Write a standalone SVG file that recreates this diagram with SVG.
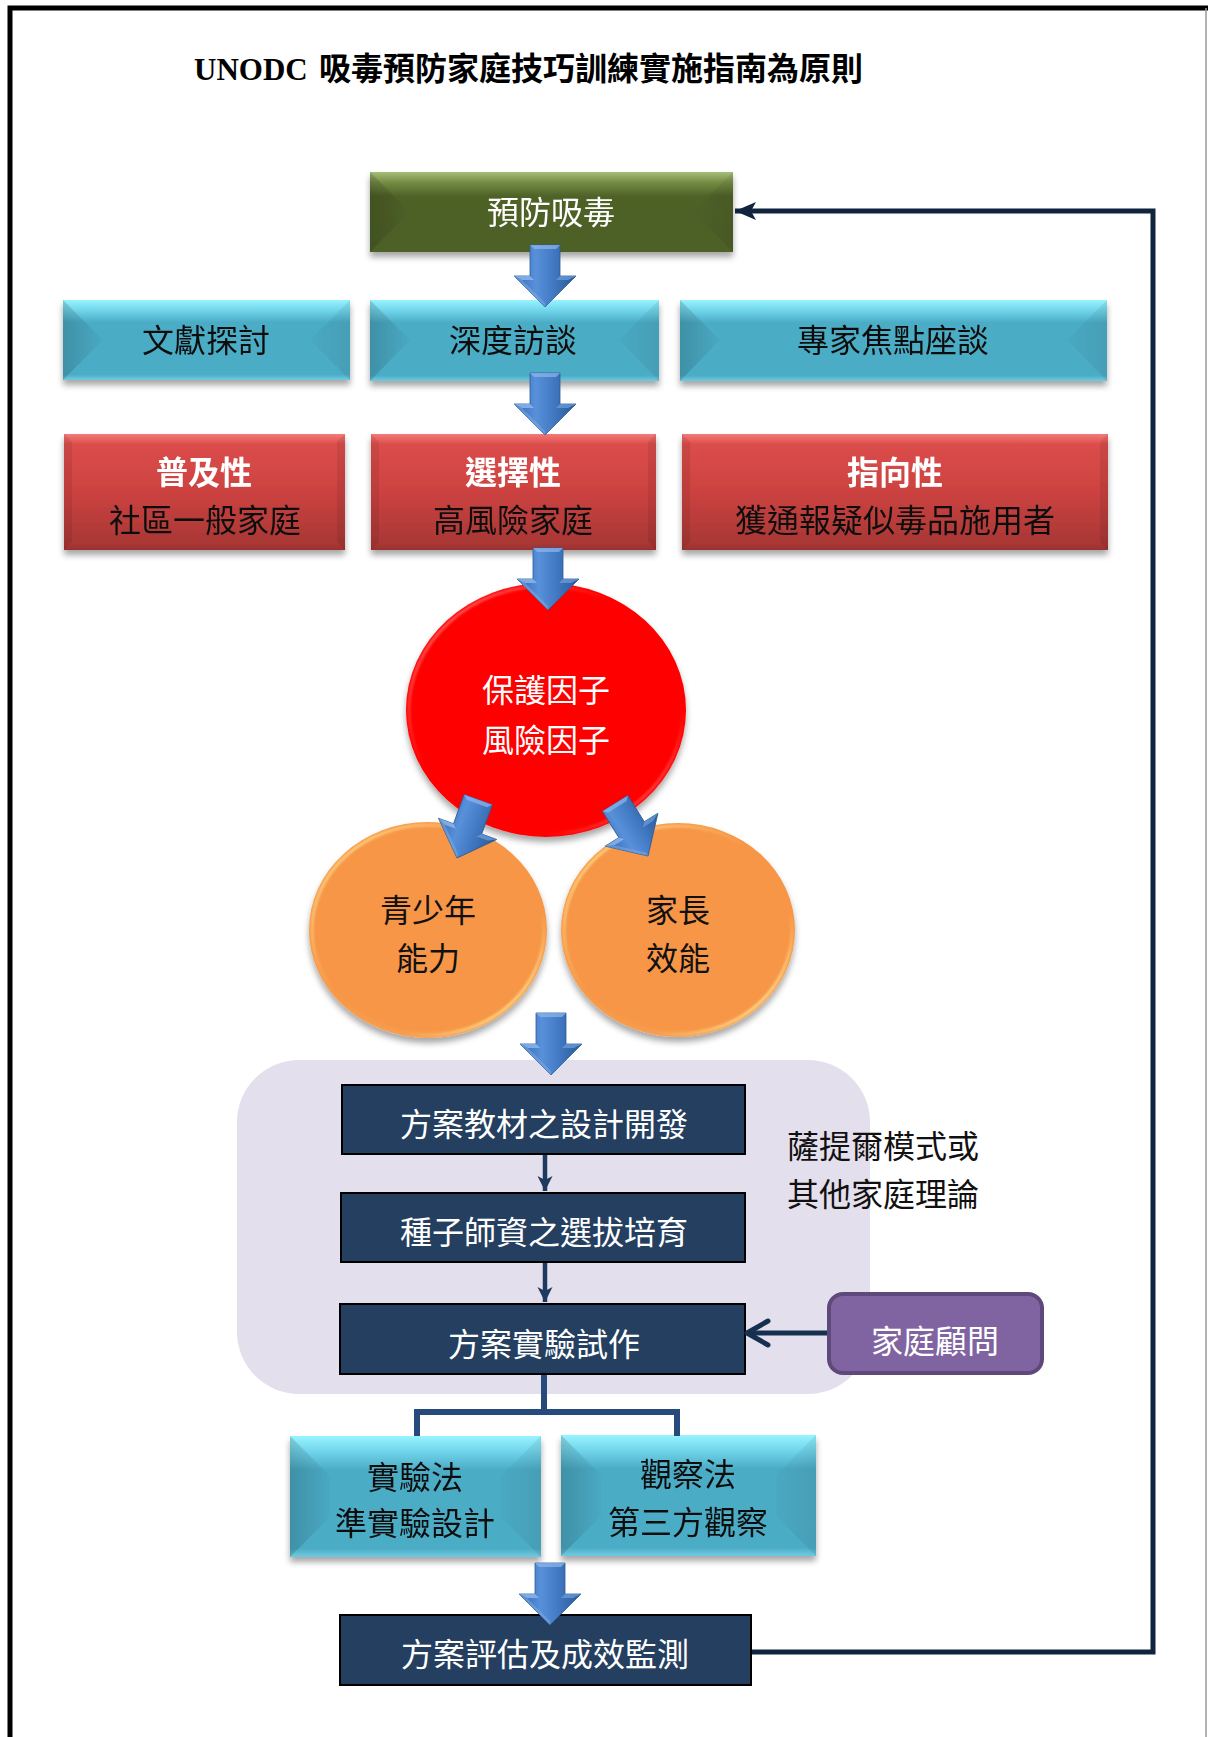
<svg xmlns="http://www.w3.org/2000/svg" width="1208" height="1737" viewBox="0 0 1208 1737">
<style>
.t{font-family:"Noto Sans CJK TC","Noto Sans CJK SC",sans-serif;font-size:32px;text-anchor:middle}
.w{fill:#ffffff}
.k{fill:#111111}
.b{font-weight:bold;font-size:32px}
</style>
<defs>
<filter id="sh" x="-10%" y="-10%" width="120%" height="135%"><feDropShadow dx="0" dy="5" stdDeviation="3" flood-color="#000" flood-opacity="0.35"/></filter>
<filter id="blur1"><feGaussianBlur stdDeviation="1.2"/></filter>
<linearGradient id="cyanG" x1="0" y1="0" x2="0" y2="1">
<stop offset="0" stop-color="#98F4FF"/><stop offset="0.13" stop-color="#70D4EA"/><stop offset="0.28" stop-color="#4BACC6"/><stop offset="0.93" stop-color="#4BACC6"/><stop offset="1" stop-color="#70CBE0"/>
</linearGradient>
<linearGradient id="greenG" x1="0" y1="0" x2="0" y2="1">
<stop offset="0" stop-color="#A6BF78"/><stop offset="0.13" stop-color="#748C44"/><stop offset="0.3" stop-color="#4F6228"/><stop offset="1" stop-color="#4D6027"/>
</linearGradient>
<linearGradient id="redG" x1="0" y1="0" x2="0" y2="1">
<stop offset="0" stop-color="#F47A78"/><stop offset="0.09" stop-color="#DB4D4B"/><stop offset="0.5" stop-color="#CC4240"/><stop offset="0.95" stop-color="#A83735"/><stop offset="1" stop-color="#9A302E"/>
</linearGradient>
<linearGradient id="fL" x1="0" y1="0" x2="1" y2="0">
<stop offset="0" stop-color="#000" stop-opacity="0.16"/><stop offset="1" stop-color="#000" stop-opacity="0.02"/>
</linearGradient>
<linearGradient id="fR" x1="0" y1="0" x2="1" y2="0">
<stop offset="0" stop-color="#000" stop-opacity="0.02"/><stop offset="1" stop-color="#000" stop-opacity="0.08"/>
</linearGradient>
<linearGradient id="arrG" x1="0" y1="0" x2="1" y2="0">
<stop offset="0" stop-color="#3568B0"/><stop offset="0.35" stop-color="#5890DA"/><stop offset="0.6" stop-color="#447CC6"/><stop offset="1" stop-color="#2A5896"/>
</linearGradient>
<radialGradient id="orgG" cx="0.5" cy="0.45" r="0.55">
<stop offset="0" stop-color="#F79646"/><stop offset="0.93" stop-color="#F79646"/><stop offset="1" stop-color="#F6A055"/>
</radialGradient>
<linearGradient id="rimO" x1="0" y1="0" x2="1" y2="1">
<stop offset="0" stop-color="#FFF0A0" stop-opacity="0.95"/><stop offset="0.45" stop-color="#FFE090" stop-opacity="0"/><stop offset="0.7" stop-color="#FFE090" stop-opacity="0"/><stop offset="0.9" stop-color="#FFF0A0" stop-opacity="0.9"/><stop offset="1" stop-color="#FFF0A0" stop-opacity="0.3"/>
</linearGradient>
<linearGradient id="rimR" x1="0" y1="0" x2="1" y2="1">
<stop offset="0" stop-color="#FF9A9A" stop-opacity="0.9"/><stop offset="0.4" stop-color="#FF8080" stop-opacity="0"/><stop offset="0.75" stop-color="#FF8080" stop-opacity="0"/><stop offset="0.95" stop-color="#FF9A9A" stop-opacity="0.8"/>
</linearGradient>
<path id="barr" d="M-15,-62 L15,-62 L15,-31 L31,-31 L0,0 L-31,-31 L-15,-31 Z" fill="url(#arrG)" stroke="#2D5A96" stroke-width="0.8"/>
<g id="arr">
<use href="#barr"/>
<path d="M-31,-31 L-15,-31 L-11,-27 L-23,-27 Z" fill="#8DB8EE" opacity="0.8"/>
<path d="M31,-31 L15,-31 L11,-27 L23,-27 Z" fill="#6E9FDD" opacity="0.7"/>
<path d="M-23,-27 L0,-4 L0,0 L-31,-31 Z" fill="#7FAEE8" opacity="0.5"/>
<path d="M-15,-62 L15,-62 L11,-58 L-11,-58 Z" fill="#8DB8EE" opacity="0.7"/>
</g>
<marker id="mFb" markerUnits="userSpaceOnUse" markerWidth="22" markerHeight="20" viewBox="0 0 22 20" refX="21" refY="10" orient="auto">
<path d="M21,10 L0,1 L5,10 L0,19 Z" fill="#10243E"/>
</marker>
<marker id="mSm" markerUnits="userSpaceOnUse" markerWidth="16" markerHeight="16" viewBox="0 0 16 16" refX="15" refY="8" orient="auto">
<path d="M15,8 L0,0.5 L4,8 L0,15.5 Z" fill="#1F3A5F"/>
</marker>
</defs>

<rect x="0" y="0" width="1208" height="1737" fill="#ffffff"/>
<path d="M10,1737 L10,8 L1208,8" fill="none" stroke="#000" stroke-width="5"/>
<line x1="1206" y1="8" x2="1206" y2="1737" stroke="#9a9a9a" stroke-width="1.5"/>

<g id="title">
<text y="80" font-weight="bold"><tspan x="194" font-family="Liberation Serif, serif" font-size="31">UNODC</tspan><tspan x="319" font-family="Noto Sans CJK TC, Noto Sans CJK SC, sans-serif" font-size="32">吸毒預防家庭技巧訓練實施指南為原則</tspan></text>
</g>

<g id="container">
<rect x="237" y="1060" width="633" height="334" rx="62" fill="#E4DFEC"/>
</g>

<g id="n-prevent" filter="url(#sh)">
<rect x="370" y="172" width="363" height="80" fill="url(#greenG)"/>
<polygon points="370,172 410,212 370,252" fill="url(#fL)"/>
<polygon points="733,172 693,212 733,252" fill="url(#fR)"/>
<text class="t w" x="551" y="224">預防吸毒</text>
</g>

<g id="n-lit" filter="url(#sh)">
<rect x="63" y="300" width="287" height="80" fill="url(#cyanG)"/>
<polygon points="63,300 103,340 63,380" fill="url(#fL)"/>
<polygon points="350,300 310,340 350,380" fill="url(#fR)"/>
<text class="t k" x="206" y="352">文獻探討</text>
</g>
<g id="n-interview" filter="url(#sh)">
<rect x="370" y="300" width="289" height="81" fill="url(#cyanG)"/>
<polygon points="370,300 410,340 370,381" fill="url(#fL)"/>
<polygon points="659,300 619,340 659,381" fill="url(#fR)"/>
<text class="t k" x="513" y="352">深度訪談</text>
</g>
<g id="n-focus" filter="url(#sh)">
<rect x="680" y="300" width="427" height="81" fill="url(#cyanG)"/>
<polygon points="680,300 720,340 680,381" fill="url(#fL)"/>
<polygon points="1107,300 1067,340 1107,381" fill="url(#fR)"/>
<text class="t k" x="893" y="352">專家焦點座談</text>
</g>

<g id="n-universal" filter="url(#sh)">
<rect x="64" y="434" width="281" height="116" fill="url(#redG)"/>
<polygon points="64,434 72,442 72,542 64,550" fill="#000" opacity="0.08"/>
<polygon points="345,434 337,442 337,542 345,550" fill="#000" opacity="0.08"/>
<text class="t w b" x="204" y="484">普及性</text>
<text class="t k" x="205" y="532">社區一般家庭</text>
</g>
<g id="n-selective" filter="url(#sh)">
<rect x="371" y="434" width="285" height="116" fill="url(#redG)"/>
<polygon points="371,434 379,442 379,542 371,550" fill="#000" opacity="0.08"/>
<polygon points="656,434 648,442 648,542 656,550" fill="#000" opacity="0.08"/>
<text class="t w b" x="513" y="484">選擇性</text>
<text class="t k" x="513" y="532">高風險家庭</text>
</g>
<g id="n-indicated" filter="url(#sh)">
<rect x="682" y="434" width="426" height="116" fill="url(#redG)"/>
<polygon points="682,434 690,442 690,542 682,550" fill="#000" opacity="0.08"/>
<polygon points="1108,434 1100,442 1100,542 1108,550" fill="#000" opacity="0.08"/>
<text class="t w b" x="895" y="484">指向性</text>
<text class="t k" x="895" y="532">獲通報疑似毒品施用者</text>
</g>

<g id="n-factors">
<ellipse cx="546" cy="710" rx="140" ry="127" fill="#FF0000" filter="url(#sh)"/>
<ellipse cx="546" cy="710" rx="137" ry="124" fill="none" stroke="url(#rimR)" stroke-width="3" filter="url(#blur1)"/>
<text class="t w" x="546" y="702">保護因子</text>
<text class="t w" x="546" y="752">風險因子</text>
</g>

<g id="n-youth">
<ellipse cx="428" cy="930" rx="119" ry="108" fill="url(#orgG)" filter="url(#sh)"/>
<ellipse cx="428" cy="930" rx="116" ry="105" fill="none" stroke="url(#rimO)" stroke-width="3" filter="url(#blur1)"/>
<text class="t k" x="428" y="922">青少年</text>
<text class="t k" x="428" y="970">能力</text>
</g>
<g id="n-parent">
<ellipse cx="678" cy="930" rx="117" ry="107" fill="url(#orgG)" filter="url(#sh)"/>
<ellipse cx="678" cy="930" rx="114" ry="104" fill="none" stroke="url(#rimO)" stroke-width="3" filter="url(#blur1)"/>
<text class="t k" x="678" y="922">家長</text>
<text class="t k" x="678" y="970">效能</text>
</g>

<g id="n-design">
<rect x="342" y="1085" width="403" height="69" fill="#243F60" stroke="#000" stroke-width="2"/>
<text class="t w" x="544" y="1136">方案教材之設計開發</text>
</g>
<g id="n-seed">
<rect x="341" y="1193" width="404" height="69" fill="#243F60" stroke="#000" stroke-width="2"/>
<text class="t w" x="544" y="1244">種子師資之選拔培育</text>
</g>
<g id="n-pilot">
<rect x="340" y="1304" width="405" height="70" fill="#243F60" stroke="#000" stroke-width="2"/>
<text class="t w" x="544" y="1356">方案實驗試作</text>
</g>

<g id="n-theory">
<text class="t k" x="787" y="1158" style="text-anchor:start">薩提爾模式或</text>
<text class="t k" x="787" y="1206" style="text-anchor:start">其他家庭理論</text>
</g>

<g id="n-consultant">
<rect x="829" y="1294" width="213" height="79" rx="14" fill="#8064A2" stroke="#5F497A" stroke-width="4"/>
<text class="t w" x="935" y="1353">家庭顧問</text>
</g>

<g id="n-experiment" filter="url(#sh)">
<rect x="290" y="1436" width="251" height="121" fill="url(#cyanG)"/>
<polygon points="290,1436 330,1476 330,1517 290,1557" fill="url(#fL)"/>
<polygon points="541,1436 501,1476 501,1517 541,1557" fill="url(#fR)"/>
<text class="t k" x="415" y="1489">實驗法</text>
<text class="t k" x="415" y="1535">準實驗設計</text>
</g>
<g id="n-observe" filter="url(#sh)">
<rect x="561" y="1435" width="255" height="121" fill="url(#cyanG)"/>
<polygon points="561,1435 601,1475 601,1516 561,1556" fill="url(#fL)"/>
<polygon points="816,1435 776,1475 776,1516 816,1556" fill="url(#fR)"/>
<text class="t k" x="688" y="1486">觀察法</text>
<text class="t k" x="688" y="1534">第三方觀察</text>
</g>

<g id="n-evaluate">
<rect x="340" y="1615" width="411" height="70" fill="#243F60" stroke="#000" stroke-width="2"/>
<text class="t w" x="545" y="1666">方案評估及成效監測</text>
</g>

<g id="connectors">
<use href="#arr" transform="translate(545,307)"/>
<use href="#arr" transform="translate(545,435)"/>
<use href="#arr" transform="translate(548,610)"/>
<use href="#arr" transform="translate(457,858) rotate(20)"/>
<use href="#arr" transform="translate(648,856) rotate(-32)"/>
<use href="#arr" transform="translate(551,1075)"/>
<use href="#arr" transform="translate(550,1625)"/>
<line x1="545" y1="1155" x2="545" y2="1191" stroke="#1F3A5F" stroke-width="4.5" marker-end="url(#mSm)"/>
<line x1="545" y1="1263" x2="545" y2="1302" stroke="#1F3A5F" stroke-width="4.5" marker-end="url(#mSm)"/>
<line x1="827" y1="1333" x2="749" y2="1333" stroke="#17304F" stroke-width="5"/>
<polyline points="768,1321 747,1333 768,1345" fill="none" stroke="#17304F" stroke-width="5" stroke-linecap="round" stroke-linejoin="round"/>
<path d="M544,1375 L544,1412 M417,1436 L417,1412 L677,1412 L677,1436" fill="none" stroke="#254A7B" stroke-width="6"/>
<polyline points="752,1652 1153,1652 1153,211 735,211" fill="none" stroke="#10243E" stroke-width="5" marker-end="url(#mFb)"/>
</g>
</svg>
